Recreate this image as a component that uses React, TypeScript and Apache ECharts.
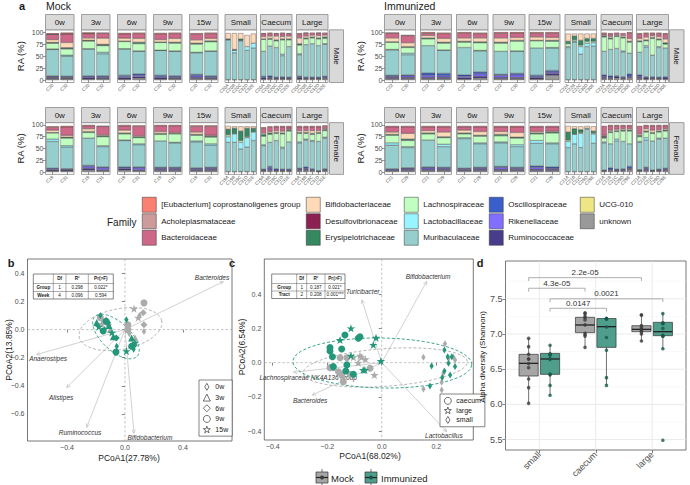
import React, { useEffect, useRef } from "react";
import * as echarts from "echarts";

const FONT = "'Liberation Sans', Arial, Helvetica, sans-serif";

// ---------------- Panel a data ----------------
// stacking order (bottom -> top)
const FAMILIES = [
  "unknown", "UCG-010", "Ruminococcaceae", "Rikenellaceae", "Oscillospiraceae",
  "Muribaculaceae", "Lactobacillaceae", "Lachnospiraceae", "Erysipelotrichaceae",
  "Desulfovibrionaceae", "Bifidobacteriaceae", "Bacteroidaceae", "Acholeplasmataceae",
  "[Eubacterium] coprostanoligenes group",
];
const FAMILY_COLORS = [
  "#999999", "#EEE685", "#483D8B", "#836FFF", "#3A5FCD", "#96CDCD", "#98F5FF",
  "#C1FFC1", "#35885F", "#8B2252", "#FFDAB9", "#CD6889", "#CD9B9B", "#FA8072",
];
const FACETS = ["0w", "3w", "6w", "9w", "15w", "Small", "Caecum", "Large"];
const LEGEND_COLUMNS = [
  ["[Eubacterium] coprostanoligenes group", "Acholeplasmataceae", "Bacteroidaceae"],
  ["Bifidobacteriaceae", "Desulfovibrionaceae", "Erysipelotrichaceae"],
  ["Lachnospiraceae", "Lactobacillaceae", "Muribaculaceae"],
  ["Oscillospiraceae", "Rikenellaceae", "Ruminococcaceae"],
  ["UCG-010", "unknown"],
];

const MOCK_MALE_MICE = ["C20", "C32"];
const MOCK_FEMALE_MICE = ["C19", "C31"];
const IMM_MALE_MICE = ["C22", "C30"];
const IMM_FEMALE_MICE = ["C21", "C29"];
const MOCK_MALE_SITES = ["C20A", "C20B", "C20C", "C32D", "C32E"];
const MOCK_FEMALE_SITES = ["C19A", "C19B", "C19C", "C31D", "C31E"];
const IMM_MALE_SITES = ["C22A", "C22B", "C22C", "C30D", "C30E"];
const IMM_FEMALE_SITES = ["C21A", "C21B", "C21C", "C29D", "C29E"];

// rows: 0w x2, 3w x2, 6w x2, 9w x2, 15w x2, Small x5, Caecum x5, Large x5
// columns follow FAMILIES
const MOCK_MALE = [
  [3,0,3,1,2,55,1,12,1,0.5,6,11,0.5,1.5],
  [3,0,2,1,2,42,2,13,2,0.5,11,18,0.5,2],
  [2,0,3,2,2,56,0.5,16,1,0.5,5,9,0.5,2],
  [3,0,2,2,2,46,3,14,2,0.5,13,10,0,1.5],
  [2,0,3,2,3,55,0.5,15,1,0,6,9,0,2],
  [4,0,3,3,3,47,1,15,3,0,8,10,0,2],
  [2,0,3,2,3,52,0.5,16,1,0,5,12,0,2],
  [3,0,2,2,2,51,1,16,2,0,8,10,0,2],
  [3,0,3,3,3,45,1,17,2,0,7,12,0,2],
  [3,0,2,2,2,51,1,19,2,0,5,10,0,2],
  [1,0,0,0,0,83,0,1,1,0,12,0,0,0],
  [1,0,0,0,0,56,5,1,1,0,34,0,0,0],
  [1,0,0,0,0,81,1,0,3,0,12,0,0,0],
  [1,0,0,0,0,61,8,0,0,0,24,0,0,0],
  [1,0,0,0,0,66,10,0,0,0,20,0,0,0],
  [2,0,3,0,3,52,0,25,1,0,5,6,0,1],
  [3,0,2,1,3,62,0,14,2,0,5,5,0,2],
  [2,0,2,0,2,62,0,14,2,0,8,5,0,1],
  [2,0,2,1,2,44,3,30,2,0,5,6,0,2],
  [2,0,2,0,2,64,0,14,2,0,6,5,0,1],
  [2,0,3,1,2,45,2,18,3,0,12,8,0,2],
  [2,0,2,0,2,68,0,12,2,0,4,6,0,1],
  [2,0,2,0,2,70,0,12,2,0,4,5,0,0],
  [2,0,2,0,2,66,0,14,2,0,5,5,0,1],
  [3,0,3,0,2,67,1,11,3,0,4,5,0,0],
];
const MOCK_FEMALE = [
  [2,0,2,2,2,57,5,13,1,0,5,6,0,2],
  [2,0,2,2,1,46,3,16,2,0,4,18,0,2],
  [4,0,4,4,2,58,0,12,2,0,6,6,0,2],
  [3,0,2,4,2,43,2,19,2,0,2,18,0,1],
  [4,0,3,2,2,56,1,13,2,0,6,9,0,2],
  [3,0,2,4,2,47,2,13,2,0,2,20,0,2],
  [3,0,3,2,2,56,0,14,2,0,4,12,0,2],
  [3,0,3,2,2,52,1,18,1,0,2,14,0,2],
  [3,0,2,2,2,55,2,12,2,0,5,12,0,2],
  [3,0,3,2,2,47,3,14,2,0,2,19,0,2],
  [1,0,0,0,0,62,12,4,12,0,7,0,0,0],
  [1,0,0,0,0,62,18,0,12,0,4,0,0,0],
  [1,0,0,0,0,48,14,4,20,0,10,0,0,0],
  [1,0,0,0,0,52,20,2,18,0,4,0,0,0],
  [1,0,0,0,0,66,18,0,8,0,4,0,0,0],
  [2,0,2,0,2,50,2,18,4,0,3,10,0,2],
  [3,0,3,3,3,51,0,17,3,0,3,9,0,2],
  [2,0,2,0,3,60,0,15,2,0,4,8,0,2],
  [2,0,2,0,2,44,3,28,2,0,4,9,0,2],
  [2,0,2,0,2,58,0,23,2,0,2,5,0,2],
  [3,0,3,0,2,54,2,18,2,0,4,8,0,2],
  [3,0,3,2,3,57,2,12,2,0,4,8,0,2],
  [3,0,2,0,2,58,2,13,2,0,6,8,0,2],
  [1,0,1,0,1,62,0,17,2,0,4,8,0,2],
  [3,0,2,0,2,65,2,14,2,0,2,5,0,2],
];
const IMM_MALE = [
  [3,0,3,2,2,53,1,15,1,0,8,10,0,1],
  [3,0,3,3,2,42,3,12,2,0,8,15,0,1],
  [3,0,3,4,5,57,0,14,2,0,5,5,0,2],
  [3,0,3,3,5,48,1,14,2,0,8,10,0,2],
  [2,0,3,3,3,57,0,11,2,0,7,10,0,2],
  [4,0,4,5,4,44,1,16,2,0,8,9,0,2],
  [3,0,3,4,2,48,0,17,2,0,9,10,0,2],
  [3,0,3,5,3,46,1,20,2,0,6,9,0,2],
  [2,0,3,2,3,57,0,15,1,0,7,8,0,2],
  [10,0,4,3,3,47,1,13,2,0,6,9,0,2],
  [1,0,0,0,0,67,2,6,5,0,16,0,0,0],
  [1,0,0,0,0,78,2,3,8,0,5,0,0,0],
  [1,0,0,0,0,53,16,3,10,0,14,0,0,0],
  [1,0,0,0,0,69,7,4,6,0,10,0,0,0],
  [1,0,0,0,0,70,7,3,6,0,10,0,0,0],
  [3,0,3,2,3,49,0,30,2,0,2,3,0,2],
  [3,0,3,0,3,55,0,22,2,0,3,5,0,2],
  [4,0,3,0,2,57,0,25,2,0,2,4,0,0],
  [3,0,2,0,2,52,2,27,2,0,3,5,0,0],
  [5,0,3,0,5,43,0,23,2,0,6,11,0,2],
  [3,0,3,2,3,47,0,22,2,0,5,9,0,2],
  [2,0,3,0,2,62,3,10,2,0,6,7,0,2],
  [3,0,2,0,2,45,0,35,2,0,4,4,0,2],
  [2,0,2,0,2,62,2,14,2,0,5,6,0,2],
  [2,0,3,0,2,60,0,8,3,0,8,10,0,2],
];
const IMM_FEMALE = [
  [3,0,2,0,2,50,5,16,2,0,5,11,0,2],
  [3,0,3,2,1,43,2,13,3,0,12,14,0,2],
  [3,0,3,3,2,57,0,13,2,0,5,8,0,2],
  [3,0,3,2,2,44,5,14,2,0,10,11,0,2],
  [3,0,2,2,1,63,2,8,2,0,6,7,0,2],
  [3,0,3,2,2,50,2,14,2,0,8,10,0,2],
  [3,0,3,4,2,50,2,13,3,0,6,10,0,2],
  [3,0,3,2,2,44,4,14,2,0,10,12,0,2],
  [3,0,3,4,3,48,6,14,2,0,3,10,0,2],
  [3,0,3,2,3,49,2,21,2,0,2,9,0,2],
  [1,0,0,0,0,51,13,3,17,0,13,0,0,0],
  [1,0,0,0,0,59,20,0,12,0,5,0,0,0],
  [1,0,0,0,0,51,30,2,6,0,7,0,0,0],
  [1,0,0,0,0,90,2,0,0,0,5,0,0,0],
  [1,0,0,0,0,60,20,2,4,0,10,0,0,0],
  [2,0,1,0,1,58,2,8,2,2,2,20,0,0],
  [3,0,3,0,3,51,0,24,2,0,3,9,0,2],
  [2,0,2,0,2,60,4,16,2,0,3,7,0,2],
  [3,0,2,0,2,58,0,22,2,0,3,6,0,2],
  [5,0,3,0,4,48,0,27,2,0,3,6,0,2],
  [2,0,2,0,1,58,2,10,3,0,3,17,0,0],
  [3,0,3,2,2,58,5,12,2,0,5,6,0,2],
  [2,0,1,0,1,62,0,16,2,0,5,9,0,2],
  [2,0,2,0,2,64,2,13,2,0,3,8,0,2],
  [3,0,3,0,2,64,0,15,2,0,3,6,0,2],
];
const RA_TICKS = [0, 25, 50, 75, 100];

// ---------------- Panel b data ----------------
const WEEKS = ["0w", "3w", "6w", "9w", "15w"];
const B_MOCK_X = [0.131, 0.062, 0.126, 0.092, 0.131, 0.131, -0.17, -0.15, -0.115, 0.02, 0.02, 0.07, -0.13, -0.16, -0.1, 0.03, 0.1];
const B_MOCK_Y = [0.19, 0.148, 0.12, 0.085, 0.035, -0.014, 0.085, 0.06, 0.035, 0.035, 0.0, -0.06, 0.07, 0.04, 0.0, -0.03, 0.1];
const B_MOCK_WEEK = ["9w", "15w", "6w", "15w", "6w", "0w", "9w", "3w", "6w", "9w", "9w", "3w", "0w", "15w", "3w", "0w", "0w"];
const B_IMM_X = [-0.17, 0.01, -0.195, -0.12, -0.13, -0.15, -0.09, -0.08, -0.06, -0.057, -0.062, 0.01, 0.046, 0.057, 0.046, 0.069, -0.18, -0.14, -0.11, 0.06];
const B_IMM_Y = [0.1, 0.07, 0.05, 0.05, 0.06, -0.01, -0.02, -0.05, -0.06, -0.118, -0.16, -0.153, -0.06, -0.118, -0.118, -0.094, 0.02, 0.0, 0.03, -0.14];
const B_IMM_WEEK = ["0w", "0w", "3w", "6w", "9w", "9w", "15w", "3w", "6w", "0w", "9w", "15w", "3w", "6w", "9w", "15w", "15w", "0w", "3w", "0w"];
const B_ARROW_NAMES = ["Bacteroides", "Anaerostipes", "Alistipes", "Ruminococcus", "Bifidobacterium"];
const B_ARROW_X = [0.678, -0.609, -0.402, -0.264, 0.062];
const B_ARROW_Y = [0.341, -0.177, -0.412, -0.695, -0.737];
const B_LABEL_X = [0.6, -0.53, -0.44, -0.31, 0.172];
const B_LABEL_Y = [0.37, -0.205, -0.48, -0.733, -0.765];
// ellipses: [cx, cy, semi-axis a, semi-axis b, angle deg] ; Mock, Immunized
const B_ELLIPSES = [
  [-0.031, 0.004, 0.29, 0.145, 11],
  [-0.062, -0.049, 0.2, 0.1, -43],
];
const B_TABLE = [["", "Df", "R²", "Pr(>F)"], ["Group", "1", "0.298", "0.022*"], ["Week", "4", "0.096", "0.594"]];

// ---------------- Panel c data ----------------
const TRACTS = ["caecum", "large", "small"];
const C_MOCK_X = [0.232, 0.153, 0.262, 0.269, 0.226, 0.22, 0.22, 0.153, 0.245, -0.153, -0.128, -0.19, -0.178, -0.159, -0.147, -0.141, -0.116, -0.043, -0.104, -0.08, -0.075, -0.086, -0.027, -0.06];
const C_MOCK_Y = [0.11, 0.032, 0.035, 0.016, -0.062, -0.115, -0.16, -0.154, 0.025, 0.029, 0.029, -0.029, -0.029, -0.053, -0.072, -0.111, -0.068, -0.033, 0.032, 0.041, 0.032, 0.0, -0.072, 0.02];
const C_MOCK_TRACT = ["small", "small", "small", "small", "small", "small", "small", "small", "small", "caecum", "caecum", "caecum", "caecum", "caecum", "caecum", "caecum", "caecum", "caecum", "large", "large", "large", "large", "large", "large"];
const C_IMM_X = [-0.113, -0.153, -0.135, -0.086, -0.08, -0.021, -0.031, -0.147, -0.19, -0.19, -0.181, -0.113, -0.178, -0.128, -0.132, -0.104, -0.068, -0.062, -0.003, 0.23, 0.242, 0.257, 0.245, 0.269, 0.183, 0.23, 0.251, 0.222, 0.177];
const C_IMM_Y = [0.201, 0.133, 0.162, 0.143, 0.152, 0.146, 0.104, 0.08, 0.088, 0.068, 0.035, 0.041, -0.023, -0.013, -0.049, -0.068, -0.043, -0.043, 0.01, 0.074, 0.035, 0.035, -0.004, -0.023, -0.02, -0.049, -0.072, -0.087, -0.136];
const C_IMM_TRACT = ["large", "large", "caecum", "caecum", "caecum", "large", "large", "caecum", "caecum", "caecum", "caecum", "large", "caecum", "caecum", "caecum", "caecum", "large", "large", "large", "small", "small", "small", "small", "small", "small", "small", "small", "small", "small"];
const C_ARROW_NAMES = ["Bifidobacterium", "Turicibacter", "Lachnospiraceae NK4A136 group", "Bacteroides", "Lactobacillus"];
const C_ARROW_X = [0.165, -0.073, -0.324, -0.255, 0.238];
const C_ARROW_Y = [0.475, 0.367, -0.056, -0.189, -0.403];
const C_LABEL_X = [0.17, -0.07, -0.27, -0.263, 0.228];
const C_LABEL_Y = [0.504, 0.415, -0.088, -0.222, -0.427];
const C_ELLIPSES = [
  [0.013, -0.028, 0.302, 0.11, 4],
  [0.002, -0.002, 0.328, 0.146, -1],
];
const C_TABLE = [["", "Df", "R²", "Pr(>F)"], ["Group", "1", "0.187", "0.021*"], ["Tract", "2", "0.208", "0.001***"]];

// ---------------- Panel d data ----------------
const D_CATEGORIES = ["small", "caecum", "large"];
// [min, q1, median, q3, max] per category
const D_MOCK_STATS = [
  [6.015, 6.403, 6.583, 6.711, 6.939],
  [6.806, 7.019, 7.128, 7.237, 7.308],
  [6.9, 7.033, 7.066, 7.118, 7.279],
];
const D_IMM_STATS = [
  [6.133, 6.427, 6.645, 6.725, 6.84],
  [6.276, 6.81, 7.104, 7.22, 7.237],
  [6.787, 6.976, 7.033, 7.166, 7.294],
];
const D_MOCK_POINTS = [
  [6.938, 6.82, 6.711, 6.645, 6.645, 6.522, 6.36, 6.238, 6.015, 6.58],
  [7.3, 7.29, 7.25, 7.23, 7.2, 7.13, 7.01, 6.99, 6.97, 6.81],
  [7.27, 7.27, 7.12, 7.09, 7.07, 7.06, 7.05, 7.03, 7.0, 6.9],
];
const D_IMM_POINTS = [
  [6.84, 6.72, 6.71, 6.7, 6.65, 6.64, 6.43, 6.42, 6.27, 6.13],
  [7.22, 7.22, 7.22, 7.21, 7.1, 6.95, 6.77, 6.38, 6.27],
  [7.29, 7.16, 7.15, 7.15, 7.08, 6.98, 6.97, 6.97, 6.79, 5.49],
];
const D_Y_TICKS = [5.5, 6.0, 6.5, 7.0, 7.5];
const D_MINOR_Y = [5.75, 6.25, 6.75, 7.25, 7.75];
const BRACKET_FROM_CAT = [0, 0, 0, 0];
const BRACKET_TO_CAT = [2, 1, 2, 1];
const BRACKET_GROUP = [0, 0, 1, 1];
const BRACKET_Y = [7.8, 7.65, 7.5, 7.365];
const BRACKET_LABEL = ["2.2e-05", "4.3e-05", "0.0021", "0.0147"];

// ---------------- style / layout ----------------
const MOCK_COLOR = "#ABABAB";
const IMM_COLOR = "#23977A";
const MOCK_BOX = "#A6A6A6";
const IMM_BOX = "#4E9E8B";
const STAR = "path://M50,0 L61.8,35.1 L97.6,34.5 L68.8,56.2 L79.4,90.5 L50,70 L20.6,90.5 L31.2,56.2 L2.4,34.5 L38.2,35.1 Z";
const NARROW_DIAMOND = "path://M3,0 L6,5 L3,10 L0,5 Z";
const SQUARE_ICON = "path://M0,0 L14,0 L14,15 L0,15 Z";
const WEEK_SYMBOL: any = { "0w": NARROW_DIAMOND, "3w": "triangle", "6w": "diamond", "9w": "circle", "15w": STAR };
const TRACT_SYMBOL: any = { caecum: "circle", large: STAR, small: NARROW_DIAMOND };

const FACET_X = [
  [[45.5, 74], [81.5, 110], [117.5, 146], [153.5, 182], [189.5, 218], [225, 256.5], [260.5, 292], [296.5, 328]],
  [[384.5, 415.5], [420.5, 451.5], [456.5, 488], [493, 525], [529, 560], [565, 596.5], [601, 632.5], [636.5, 668.5]],
];
const ROW_LAYOUT = [
  { strip: [14.5, 29.8], grid: [29.8, 82.5] },
  { strip: [107.5, 122.6], grid: [122.6, 174.4] },
];
const SIDE_STRIP_X = [[329.5, 343.5], [669.5, 684]];
const LEGEND_X = [142, 306, 404, 489, 580];

function fmt(v: number, d: number) {
  const s = Math.abs(v).toFixed(d);
  return (v < -1e-9 ? "\u2212" : "") + s;
}

function txt(text: string, x: number, y: number, o: any = {}) {
  return {
    type: "text", x, y, z: 100, silent: true, rotation: o.rotation || 0,
    style: {
      text, fontSize: o.size || 8, fontFamily: FONT, fill: o.color || "#1a1a1a",
      align: o.align || "center", verticalAlign: o.va || "middle",
      fontWeight: o.weight || "normal", fontStyle: o.fontStyle || "normal",
    },
  };
}

function table(cols: number[], rows: number[], cells: string[][]) {
  const els: any[] = [];
  els.push({ type: "rect", z: 100, silent: true, shape: { x: cols[0], y: rows[0], width: cols[cols.length - 1] - cols[0], height: rows[rows.length - 1] - rows[0] }, style: { fill: "#fff", stroke: "#333", lineWidth: 0.6 } });
  for (let i = 1; i < rows.length - 1; i++) els.push({ type: "line", z: 100, silent: true, shape: { x1: cols[0], y1: rows[i], x2: cols[cols.length - 1], y2: rows[i] }, style: { stroke: "#333", lineWidth: 0.4 } });
  for (let j = 1; j < cols.length - 1; j++) els.push({ type: "line", z: 100, silent: true, shape: { x1: cols[j], y1: rows[0], x2: cols[j], y2: rows[rows.length - 1] }, style: { stroke: "#333", lineWidth: 0.4 } });
  cells.forEach((r, i) => r.forEach((c, j) => {
    if (!c) return;
    const bold = i === 0 || j === 0;
    els.push(txt(c, (cols[j] + cols[j + 1]) / 2, (rows[i] + rows[i + 1]) / 2, { size: 4.6, weight: bold ? "bold" : "normal" }));
  }));
  return els;
}

function refLines(g: number, values: number[], orient: string, style: any, z = 1) {
  return {
    type: "custom", xAxisIndex: g, yAxisIndex: g, silent: true, z,
    data: values.map((v) => [v, v]),
    renderItem: (params: any, api: any) => {
      const cs = params.coordSys;
      const v = api.value(0);
      if (orient === "h") {
        const y = api.coord([0, v])[1];
        return { type: "line", shape: { x1: cs.x, y1: y, x2: cs.x + cs.width, y2: y }, style };
      }
      const x = api.coord([v, 0])[0];
      return { type: "line", shape: { x1: x, y1: cs.y, x2: x, y2: cs.y + cs.height }, style };
    },
  };
}

function ellipseSeries(g: number, ells: number[][]) {
  const colors = [MOCK_COLOR, IMM_COLOR];
  return {
    type: "custom", xAxisIndex: g, yAxisIndex: g, silent: true, z: 3,
    data: ells,
    renderItem: (params: any, api: any) => {
      const c = api.coord([api.value(0), api.value(1)]);
      const s = api.size([api.value(2), api.value(3)]);
      const th = (api.value(4) * Math.PI) / 180;
      const pts: number[][] = [];
      for (let i = 0; i <= 120; i++) {
        const t = (i / 120) * Math.PI * 2;
        const ex = s[0] * Math.cos(t), ey = s[1] * Math.sin(t);
        pts.push([c[0] + ex * Math.cos(th) - ey * Math.sin(th), c[1] - (ex * Math.sin(th) + ey * Math.cos(th))]);
      }
      return { type: "polyline", shape: { points: pts }, style: { stroke: colors[params.dataIndex], lineWidth: 0.9, lineDash: [3, 2], fill: null } };
    },
  };
}

function arrowSeries(g: number, xs: number[], ys: number[], lx: number[], ly: number[], names: string[]) {
  return {
    type: "custom", xAxisIndex: g, yAxisIndex: g, silent: true, z: 2,
    data: xs.map((x, i) => [x, ys[i]]),
    renderItem: (params: any, api: any) => {
      const i = params.dataIndex;
      const o = api.coord([0, 0]);
      const t = api.coord([api.value(0), api.value(1)]);
      const ang = Math.atan2(t[1] - o[1], t[0] - o[0]);
      const L = 4, w = 0.45;
      const h1 = [t[0] - L * Math.cos(ang - w), t[1] - L * Math.sin(ang - w)];
      const h2 = [t[0] - L * Math.cos(ang + w), t[1] - L * Math.sin(ang + w)];
      const lp = api.coord([lx[i], ly[i]]);
      return {
        type: "group",
        children: [
          { type: "line", shape: { x1: o[0], y1: o[1], x2: t[0], y2: t[1] }, style: { stroke: "#BDBDBD", lineWidth: 0.7 } },
          { type: "polyline", shape: { points: [h1, t, h2] }, style: { stroke: "#BDBDBD", lineWidth: 0.7, fill: null } },
          { type: "text", x: lp[0], y: lp[1], style: { text: names[i], fontSize: 6.5, fontStyle: "italic", fontFamily: FONT, fill: "#333", align: "center", verticalAlign: "middle" } },
        ],
      };
    },
  };
}

function valueAxis(g: number, min: number, max: number, ticks: number[], dec: number, size: number, extra: any = {}) {
  return {
    type: "value", gridIndex: g, min, max,
    splitLine: { show: false }, axisLine: { show: false },
    axisTick: { show: true, customValues: ticks, length: 3, lineStyle: { color: "#333", width: 0.6 } },
    axisLabel: { customValues: ticks, fontSize: size, color: "#4d4d4d", margin: 3, fontFamily: FONT, formatter: (v: number) => fmt(v, dec) },
    ...extra,
  };
}

function buildOption() {
  const opt: any = {
    animation: false, backgroundColor: "#fff",
    textStyle: { fontFamily: FONT },
    grid: [], xAxis: [], yAxis: [], series: [], legend: [], graphic: [],
  };
  const G = opt.graphic;

  // ---------- panel a ----------
  const PANELS = [
    { rows: MOCK_MALE, mice: MOCK_MALE_MICE, sites: MOCK_MALE_SITES, col: 0, row: 0, strip: "Male" },
    { rows: MOCK_FEMALE, mice: MOCK_FEMALE_MICE, sites: MOCK_FEMALE_SITES, col: 0, row: 1, strip: "Female" },
    { rows: IMM_MALE, mice: IMM_MALE_MICE, sites: IMM_MALE_SITES, col: 1, row: 0, strip: "Male" },
    { rows: IMM_FEMALE, mice: IMM_FEMALE_MICE, sites: IMM_FEMALE_SITES, col: 1, row: 1, strip: "Female" },
  ];
  PANELS.forEach((p) => {
    const rl = ROW_LAYOUT[p.row];
    FACETS.forEach((facet, f) => {
      const [x0, x1] = FACET_X[p.col][f];
      const bars = f < 5 ? p.rows.slice(2 * f, 2 * f + 2) : p.rows.slice(10 + 5 * (f - 5), 15 + 5 * (f - 5));
      const labels = f < 5 ? p.mice : p.sites;
      const g = opt.grid.length;
      opt.grid.push({ left: x0, top: rl.grid[0], width: x1 - x0, height: rl.grid[1] - rl.grid[0], show: true, borderColor: "#8c8c8c", borderWidth: 0.8, backgroundColor: "#fff" });
      opt.xAxis.push({
        type: "category", gridIndex: g, data: labels,
        axisLine: { show: false },
        axisTick: { show: true, alignWithLabel: true, length: 2.5, lineStyle: { color: "#333", width: 0.5 } },
        axisLabel: { interval: 0, rotate: 45, fontSize: 4.5, margin: 2, color: "#4d4d4d", fontFamily: FONT },
      });
      opt.yAxis.push({
        type: "value", gridIndex: g, min: -5, max: 105,
        splitLine: { show: false }, axisLine: { show: false },
        axisTick: { show: f === 0, customValues: RA_TICKS, length: 2.5, lineStyle: { color: "#333", width: 0.5 } },
        axisLabel: { show: f === 0, customValues: RA_TICKS, fontSize: 7, margin: 2, color: "#4d4d4d", fontFamily: FONT },
      });
      FAMILIES.forEach((fam, k) => {
        opt.series.push({
          type: "bar", name: fam, xAxisIndex: g, yAxisIndex: g, stack: "st" + g,
          barCategoryGap: f < 5 ? "10%" : "18%", silent: true,
          data: bars.map((b) => (b[k] > 0 ? b[k] : "-")),
          itemStyle: { color: FAMILY_COLORS[k], borderColor: "#333", borderWidth: 0.35 },
        });
      });
      G.push({ type: "rect", z: 50, silent: true, shape: { x: x0, y: rl.strip[0], width: x1 - x0, height: rl.strip[1] - rl.strip[0] }, style: { fill: "#D9D9D9", stroke: "#8c8c8c", lineWidth: 0.8 } });
      G.push(txt(facet, (x0 + x1) / 2, (rl.strip[0] + rl.strip[1]) / 2 + 0.5, { size: 8 }));
    });
    const [sx0, sx1] = SIDE_STRIP_X[p.col];
    G.push({ type: "rect", z: 50, silent: true, shape: { x: sx0, y: rl.grid[0], width: sx1 - sx0, height: rl.grid[1] - rl.grid[0] }, style: { fill: "#D9D9D9", stroke: "#8c8c8c", lineWidth: 0.8 } });
    G.push(txt(p.strip, (sx0 + sx1) / 2, (rl.grid[0] + rl.grid[1]) / 2, { size: 8, rotation: -Math.PI / 2 }));
    const raX = p.col === 0 ? 20 : 360;
    G.push(txt("RA (%)", raX, (rl.grid[0] + rl.grid[1]) / 2, { size: 9.5, rotation: Math.PI / 2 }));
  });

  G.push(txt("a", 22, 6, { size: 11, weight: "bold" }));
  G.push(txt("Mock", 46, 6, { size: 10.5, align: "left" }));
  G.push(txt("Immunized", 384, 6, { size: 10.5, align: "left" }));
  G.push(txt("Family", 107, 222, { size: 10, align: "left" }));

  LEGEND_COLUMNS.forEach((names, i) => {
    opt.legend.push({
      orient: "vertical", left: LEGEND_X[i], top: 197, padding: 0, itemGap: 1,
      itemWidth: 14, itemHeight: 15, icon: SQUARE_ICON, selectedMode: false,
      data: names.map((n) => ({ name: n, icon: SQUARE_ICON })),
      itemStyle: { borderColor: "#333", borderWidth: 0.5 },
      textStyle: { fontSize: 8, color: "#1a1a1a", fontFamily: FONT },
    });
  });

  // ---------- panel b ----------
  const gb = opt.grid.length;
  opt.grid.push({ left: 27.5, top: 259, width: 204.5, height: 182, show: true, borderColor: "#555", borderWidth: 0.8, backgroundColor: "#fff" });
  opt.xAxis.push(valueAxis(gb, -0.672, 0.738, [-0.4, 0, 0.4], 1, 7));
  opt.yAxis.push(valueAxis(gb, -0.792, 0.502, [-0.6, -0.4, -0.2, 0, 0.2, 0.4], 1, 7));
  const dashStyle = { stroke: "#9a9a9a", lineWidth: 0.6, lineDash: [2.5, 2] };
  opt.series.push(refLines(gb, [0], "h", dashStyle));
  opt.series.push(refLines(gb, [0], "v", dashStyle));
  opt.series.push(arrowSeries(gb, B_ARROW_X, B_ARROW_Y, B_LABEL_X, B_LABEL_Y, B_ARROW_NAMES));
  [[B_MOCK_X, B_MOCK_Y, B_MOCK_WEEK, MOCK_COLOR], [B_IMM_X, B_IMM_Y, B_IMM_WEEK, IMM_COLOR]].forEach(([xs, ys, wk, color]: any) => {
    WEEKS.forEach((w) => {
      const data: number[][] = [];
      xs.forEach((x: number, i: number) => { if (wk[i] === w) data.push([x, ys[i]]); });
      opt.series.push({
        type: "scatter", name: w, xAxisIndex: gb, yAxisIndex: gb, z: 4, silent: true,
        symbol: WEEK_SYMBOL[w], symbolKeepAspect: true, symbolSize: w === "15w" ? 8.5 : 7,
        itemStyle: { color, opacity: 1 }, data,
      });
    });
  });
  opt.series.push(ellipseSeries(gb, B_ELLIPSES));
  opt.legend.push({
    orient: "vertical", left: 199, top: 380, padding: [3, 4, 3, 4], itemGap: 3,
    itemWidth: 7, itemHeight: 7, selectedMode: false, data: WEEKS,
    borderColor: "#333", borderWidth: 0.6, backgroundColor: "#fff",
    itemStyle: { color: "transparent", borderColor: "#333", borderWidth: 0.7 },
    textStyle: { fontSize: 7, color: "#1a1a1a", fontFamily: FONT },
  });
  G.push(...table([33.3, 53.3, 66, 88.3, 113.3], [274, 283.5, 291.5, 299], B_TABLE));
  G.push(txt("b", 11, 263, { size: 11, weight: "bold" }));
  G.push(txt("PCoA1(27.78%)", 129, 458, { size: 8.5 }));
  G.push(txt("PCoA2(13.85%)", 9, 350, { size: 8.5, rotation: Math.PI / 2 }));

  // ---------- panel c ----------
  const gc = opt.grid.length;
  opt.grid.push({ left: 264.3, top: 259, width: 209, height: 181, show: true, borderColor: "#555", borderWidth: 0.8, backgroundColor: "#fff" });
  opt.xAxis.push(valueAxis(gc, -0.431, 0.336, [-0.4, -0.2, 0, 0.2], 1, 7));
  opt.yAxis.push(valueAxis(gc, -0.452, 0.606, [-0.4, -0.2, 0, 0.2, 0.4], 1, 7));
  opt.series.push(refLines(gc, [0], "h", dashStyle));
  opt.series.push(refLines(gc, [0], "v", dashStyle));
  opt.series.push(arrowSeries(gc, C_ARROW_X, C_ARROW_Y, C_LABEL_X, C_LABEL_Y, C_ARROW_NAMES));
  [[C_MOCK_X, C_MOCK_Y, C_MOCK_TRACT, MOCK_COLOR], [C_IMM_X, C_IMM_Y, C_IMM_TRACT, IMM_COLOR]].forEach(([xs, ys, tr, color]: any) => {
    TRACTS.forEach((t) => {
      const data: number[][] = [];
      xs.forEach((x: number, i: number) => { if (tr[i] === t) data.push([x, ys[i]]); });
      opt.series.push({
        type: "scatter", name: t, xAxisIndex: gc, yAxisIndex: gc, z: 4, silent: true,
        symbol: TRACT_SYMBOL[t], symbolKeepAspect: true, symbolSize: t === "large" ? 8.5 : 7,
        itemStyle: { color, opacity: 1 }, data,
      });
    });
  });
  opt.series.push(ellipseSeries(gc, C_ELLIPSES));
  opt.legend.push({
    orient: "vertical", left: 440, top: 394, padding: [3, 4, 3, 4], itemGap: 2,
    itemWidth: 7, itemHeight: 7, selectedMode: false, data: TRACTS,
    borderColor: "#333", borderWidth: 0.6, backgroundColor: "#fff",
    itemStyle: { color: "transparent", borderColor: "#333", borderWidth: 0.7 },
    textStyle: { fontSize: 7, color: "#1a1a1a", fontFamily: FONT },
  });
  G.push(...table([271.7, 296.7, 306.7, 325, 345], [274, 283.5, 291, 298.5], C_TABLE));
  G.push(txt("c", 232, 263, { size: 11, weight: "bold" }));
  G.push(txt("PCoA1(68.02%)", 370, 456, { size: 8.5 }));
  G.push(txt("PCoA2(6.54%)", 242, 347, { size: 8.5, rotation: Math.PI / 2 }));

  // ---------- panel d ----------
  const gd = opt.grid.length;
  opt.grid.push({ left: 505.5, top: 261, width: 180.5, height: 189, show: true, borderColor: "#555", borderWidth: 0.8, backgroundColor: "#fff" });
  opt.xAxis.push({
    type: "value", gridIndex: gd, min: 0.4, max: 3.6,
    splitLine: { show: false }, axisLine: { show: false },
    axisTick: { show: true, customValues: [1, 2, 3], length: 3, lineStyle: { color: "#333", width: 0.6 } },
    axisLabel: { customValues: [1, 2, 3], rotate: 45, fontSize: 9, color: "#4d4d4d", margin: 3, fontFamily: FONT, formatter: (v: number) => D_CATEGORIES[Math.round(v) - 1] },
  });
  opt.yAxis.push(valueAxis(gd, 5.352, 8.037, D_Y_TICKS, 1, 9));
  opt.series.push(refLines(gd, D_MINOR_Y, "h", { stroke: "#F2F2F2", lineWidth: 0.5 }));
  opt.series.push(refLines(gd, D_Y_TICKS, "h", { stroke: "#E6E6E6", lineWidth: 0.8 }));
  opt.series.push(refLines(gd, [1, 2, 3], "v", { stroke: "#E6E6E6", lineWidth: 0.8 }));
  const DODGE = [-0.19, 0.19];
  [[D_MOCK_STATS, MOCK_BOX, D_MOCK_POINTS, "#3c3c3c"], [D_IMM_STATS, IMM_BOX, D_IMM_POINTS, "#17574a"]].forEach(([stats, fill, pts, pc]: any, gi) => {
    opt.series.push({
      type: "custom", xAxisIndex: gd, yAxisIndex: gd, silent: true, z: 2,
      data: stats.map((s: number[], ci: number) => [ci + 1 + DODGE[gi], ...s]),
      renderItem: (params: any, api: any) => {
        const x = api.value(0);
        const hw = 0.17;
        const pL = api.coord([x - hw, api.value(4)]);
        const pR = api.coord([x + hw, api.value(2)]);
        const c = api.coord([x, api.value(3)]);
        const lo = api.coord([x, api.value(1)]);
        const hi = api.coord([x, api.value(5)]);
        return {
          type: "group",
          children: [
            { type: "line", shape: { x1: c[0], y1: lo[1], x2: c[0], y2: pR[1] }, style: { stroke: "#333", lineWidth: 0.7 } },
            { type: "line", shape: { x1: c[0], y1: hi[1], x2: c[0], y2: pL[1] }, style: { stroke: "#333", lineWidth: 0.7 } },
            { type: "rect", shape: { x: pL[0], y: pL[1], width: pR[0] - pL[0], height: pR[1] - pL[1] }, style: { fill, stroke: "#333", lineWidth: 0.7 } },
            { type: "line", shape: { x1: pL[0], y1: c[1], x2: pR[0], y2: c[1] }, style: { stroke: "#222", lineWidth: 1.3 } },
          ],
        };
      },
    });
    const data: number[][] = [];
    pts.forEach((arr: number[], ci: number) => arr.forEach((v) => data.push([ci + 1 + DODGE[gi], v])));
    opt.series.push({
      type: "scatter", xAxisIndex: gd, yAxisIndex: gd, silent: true, z: 5,
      symbol: "circle", symbolSize: 3.6, itemStyle: { color: pc }, data,
    });
  });
  opt.series.push({
    type: "custom", xAxisIndex: gd, yAxisIndex: gd, silent: true, z: 6,
    data: BRACKET_Y.map((y, i) => [BRACKET_FROM_CAT[i] + 1 + DODGE[BRACKET_GROUP[i]], y, BRACKET_TO_CAT[i] + 1 + DODGE[BRACKET_GROUP[i]]]),
    renderItem: (params: any, api: any) => {
      const a = api.coord([api.value(0), api.value(1)]);
      const b = api.coord([api.value(2), api.value(1)]);
      const drop = 3.3;
      return {
        type: "group",
        children: [
          { type: "polyline", shape: { points: [[a[0], a[1] + drop], a, b, [b[0], b[1] + drop]] }, style: { stroke: "#9a9a9a", lineWidth: 0.8, fill: null } },
          { type: "text", x: (a[0] + b[0]) / 2, y: a[1] - 1, style: { text: BRACKET_LABEL[params.dataIndex], fontSize: 8, fontFamily: FONT, fill: "#333", align: "center", verticalAlign: "bottom" } },
        ],
      };
    },
  });
  G.push(txt("d", 480, 263, { size: 11, weight: "bold" }));
  G.push(txt("Alpha diversity (Shannon)", 482, 357, { size: 8, rotation: Math.PI / 2 }));

  // ---------- bottom legend (Mock / Immunized) ----------
  [[316, MOCK_BOX, "#3c3c3c", "Mock", 331], [365, IMM_BOX, "#17574a", "Immunized", 381]].forEach(([x, fill, pc, label, tx]: any) => {
    G.push({ type: "line", z: 100, silent: true, shape: { x1: x + 6, y1: 469, x2: x + 6, y2: 486 }, style: { stroke: "#333", lineWidth: 0.7 } });
    G.push({ type: "rect", z: 100, silent: true, shape: { x, y: 472, width: 12, height: 11 }, style: { fill, stroke: "#333", lineWidth: 0.7 } });
    G.push({ type: "line", z: 100, silent: true, shape: { x1: x, y1: 477.5, x2: x + 12, y2: 477.5 }, style: { stroke: "#222", lineWidth: 1.2 } });
    G.push({ type: "circle", z: 101, silent: true, shape: { cx: x + 6, cy: 477.5, r: 2 }, style: { fill: pc } });
    G.push(txt(label, tx, 478, { size: 9.5, align: "left" }));
  });

  return opt;
}

export default function App() {
  const ref = useRef<HTMLDivElement>(null);
  useEffect(() => {
    if (!ref.current) return;
    const chart = echarts.init(ref.current, undefined, { renderer: "svg" });
    chart.setOption(buildOption());
    return () => chart.dispose();
  }, []);
  return (
    <div
      ref={ref}
      style={{ position: "fixed", left: 0, top: 0, width: 690, height: 485, background: "#fff" }}
    />
  );
}
